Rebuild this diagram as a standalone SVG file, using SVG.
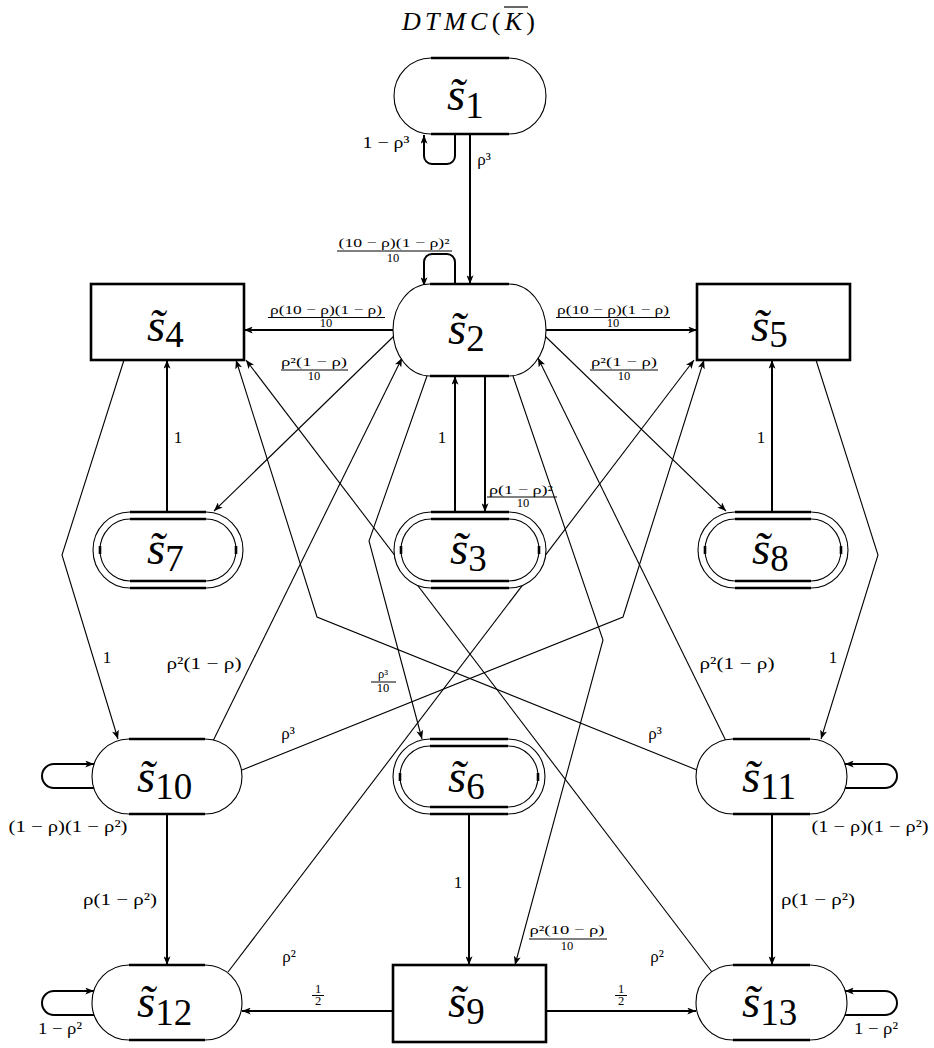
<svg xmlns="http://www.w3.org/2000/svg" width="934" height="1048" viewBox="0 0 934 1048" font-family="'Liberation Serif','Times New Roman','DejaVu Serif',serif">
<style>
.bg{fill:#fff;stroke:none}
.arc{fill:none;stroke:#000;stroke-width:1.1}
.flat{fill:none;stroke:#000;stroke-width:2.4}
.box{fill:#fff;stroke:#000;stroke-width:2.6}
.tick{fill:none;stroke:#000;stroke-width:2.6}
.e2{fill:none;stroke:#000;stroke-width:2;marker-end:url(#ah)}
.e1{fill:none;stroke:#000;stroke-width:1.1;marker-end:url(#ah)}
text{font-family:'Liberation Serif','Times New Roman','DejaVu Serif',serif;fill:#000}
.nl{font-style:italic;font-size:47px}
.sub{font-style:normal;font-size:37px}
.lb{font-size:17px;text-anchor:middle}
.fr{font-size:12.5px;text-anchor:middle}
.bar{stroke:#000;stroke-width:1}
</style>
<defs>
<marker id="ah" viewBox="0 0 10 8" refX="10" refY="4" markerWidth="9" markerHeight="7" orient="auto" markerUnits="userSpaceOnUse"><path d="M0,0 L10,4 L0,8 L2.5,4 Z" fill="#000"/></marker>
</defs>

<g id="title">
<text x="402" y="30" font-size="26" font-style="italic" textLength="133">DTMC<tspan font-style="normal">(</tspan>K<tspan font-style="normal">)</tspan></text>
<line x1="504" y1="7" x2="528" y2="7" stroke="#000" stroke-width="1.2"/>
</g>

<g id="connectors">
<path class="e2" d="M470,134 V284"/>
<path class="e2" d="M455,134 V156 A8,8 0 0 1 447,164 H432 A8,8 0 0 1 424,156 V135"/>
<path class="e2" d="M455,284 V262 A8,8 0 0 0 447,254 H432 A8,8 0 0 0 424,262 V286"/>
<path class="e2" d="M393,330 H244"/>
<path class="e2" d="M546,330 H697"/>
<path class="e1" d="M394,336 L214,511"/>
<path class="e1" d="M545,336 L726,511"/>
<path class="e2" d="M455,512 V376"/>
<path class="e2" d="M485,376 V512"/>
<path class="e2" d="M167,512 V360"/>
<path class="e2" d="M772,512 V360"/>
<path class="e1" d="M124,360 L62,555 L118,739"/>
<path class="e1" d="M816,360 L878,555 L821,739"/>
<path class="e1" d="M213,741 L402,358"/>
<path class="e1" d="M726,741 L538,358"/>
<path class="e1" d="M242,770 L623,617 L704,360"/>
<path class="e1" d="M697,770 L317,617 L236,360"/>
<path class="e1" d="M712,972 L246,360"/>
<path class="e1" d="M228,972 L694,360"/>
<path class="e1" d="M427,376 L369,541 L422,739"/>
<path class="e1" d="M513,376 L603,640 L515,965"/>
<path class="e2" d="M167,814 V965"/>
<path class="e2" d="M772,814 V965"/>
<path class="e2" d="M469,814 V965"/>
<path class="e2" d="M393,1011 H242"/>
<path class="e2" d="M546,1011 H696"/>
<path class="e2" d="M94,788 H54 A12,12 0 0 1 54,764 H94"/>
<path class="e2" d="M845,788 H885 A12,12 0 0 0 885,764 H845"/>
<path class="e2" d="M94,1015 H54 A12,12 0 0 1 54,991 H94"/>
<path class="e2" d="M845,1015 H885 A12,12 0 0 0 885,991 H845"/>
</g>

<g id="labels">
<text class="lb" x="386" y="148" font-size="15" textLength="47" lengthAdjust="spacingAndGlyphs">1 − ρ³</text>
<text class="lb" x="484" y="165">ρ³</text>
<text class="fr" x="394" y="247" textLength="111" lengthAdjust="spacingAndGlyphs">(10 − ρ)(1 − ρ)²</text>
<line class="bar" x1="337" y1="251" x2="452" y2="251"/>
<text class="fr" x="393" y="262">10</text>
<text class="fr" x="326" y="314" textLength="112" lengthAdjust="spacingAndGlyphs">ρ(10 − ρ)(1 − ρ)</text>
<line class="bar" x1="268" y1="317.5" x2="385" y2="317.5"/>
<text class="fr" x="326" y="327">10</text>
<text class="fr" x="613" y="314" textLength="112" lengthAdjust="spacingAndGlyphs">ρ(10 − ρ)(1 − ρ)</text>
<line class="bar" x1="556" y1="317.5" x2="670" y2="317.5"/>
<text class="fr" x="613" y="327">10</text>
<text class="fr" x="314" y="366" textLength="66" lengthAdjust="spacingAndGlyphs">ρ²(1 − ρ)</text>
<line class="bar" x1="281" y1="370" x2="348" y2="370"/>
<text class="fr" x="314" y="380">10</text>
<text class="fr" x="624" y="366" textLength="66" lengthAdjust="spacingAndGlyphs">ρ²(1 − ρ)</text>
<line class="bar" x1="590" y1="370" x2="658" y2="370"/>
<text class="fr" x="624" y="380">10</text>
<text class="lb" x="178" y="443">1</text>
<text class="lb" x="442" y="443">1</text>
<text class="lb" x="761" y="443">1</text>
<text class="fr" x="521" y="494" textLength="64" lengthAdjust="spacingAndGlyphs">ρ(1 − ρ)²</text>
<line class="bar" x1="487" y1="497" x2="557" y2="497"/>
<text class="fr" x="523" y="507">10</text>
<text class="lb" x="107" y="663">1</text>
<text class="lb" x="833" y="663">1</text>
<text class="lb" x="204" y="669" textLength="75" lengthAdjust="spacingAndGlyphs">ρ²(1 − ρ)</text>
<text class="lb" x="737" y="669" textLength="75" lengthAdjust="spacingAndGlyphs">ρ²(1 − ρ)</text>
<text class="fr" x="383" y="678">ρ³</text>
<line class="bar" x1="371" y1="682" x2="396" y2="682"/>
<text class="fr" x="383" y="692">10</text>
<text class="lb" x="288" y="739">ρ³</text>
<text class="lb" x="655" y="739">ρ³</text>
<text class="lb" x="68" y="832" textLength="119" lengthAdjust="spacingAndGlyphs">(1 − ρ)(1 − ρ²)</text>
<text class="lb" x="870" y="832" textLength="117" lengthAdjust="spacingAndGlyphs">(1 − ρ)(1 − ρ²)</text>
<text class="lb" x="120" y="905" textLength="74" lengthAdjust="spacingAndGlyphs">ρ(1 − ρ²)</text>
<text class="lb" x="818" y="905" textLength="74" lengthAdjust="spacingAndGlyphs">ρ(1 − ρ²)</text>
<text class="lb" x="458" y="888">1</text>
<text class="lb" x="289" y="962">ρ²</text>
<text class="lb" x="657" y="962">ρ²</text>
<text class="fr" x="567" y="934" textLength="75" lengthAdjust="spacingAndGlyphs">ρ²(10 − ρ)</text>
<line class="bar" x1="529" y1="939" x2="607" y2="939"/>
<text class="fr" x="567" y="950">10</text>
<text class="fr" x="318" y="993" font-size="11">1</text>
<line class="bar" x1="312" y1="995.5" x2="324" y2="995.5"/>
<text class="fr" x="318" y="1005" font-size="11">2</text>
<text class="fr" x="621" y="993" font-size="11">1</text>
<line class="bar" x1="615" y1="995.5" x2="627" y2="995.5"/>
<text class="fr" x="621" y="1005" font-size="11">2</text>
<text class="lb" x="60" y="1034" textLength="44" lengthAdjust="spacingAndGlyphs">1 − ρ²</text>
<text class="lb" x="876" y="1034" textLength="44" lengthAdjust="spacingAndGlyphs">1 − ρ²</text>
</g>

<g id="s1">
<path class="bg" d="M431,58 H509 A37,38 0 0 1 509,134 H431 A37,38 0 0 1 431,58 Z"/>
<path class="arc" d="M431,58 A37,38 0 0 0 431,134 M509,58 A37,38 0 0 1 509,134"/>
<path class="flat" d="M431,58 H509 M431,134 H509"/>
<text class="nl" x="447" y="110">s&#x303;<tspan class="sub" y="118">1</tspan></text>
</g>

<g id="s2">
<path class="bg" d="M430,284 H509 A37,46 0 0 1 509,376 H430 A37,46 0 0 1 430,284 Z"/>
<path class="arc" d="M430,284 A37,46 0 0 0 430,376 M509,284 A37,46 0 0 1 509,376"/>
<path class="flat" d="M430,284 H509 M430,376 H509"/>
<text class="nl" x="448" y="344">s&#x303;<tspan class="sub" y="351">2</tspan></text>
</g>

<g id="s4">
<rect class="box" x="91" y="284" width="153" height="76"/>
<text class="nl" x="147" y="341">s&#x303;<tspan class="sub" y="347">4</tspan></text>
</g>

<g id="s5">
<rect class="box" x="697" y="284" width="153" height="76"/>
<text class="nl" x="751" y="341">s&#x303;<tspan class="sub" y="347">5</tspan></text>
</g>

<g id="s7">
<path class="bg" d="M130,512 H206 A37,38 0 0 1 206,588 H130 A37,38 0 0 1 130,512 Z"/>
<path class="arc" d="M130,512 A37,38 0 0 0 130,588 M206,512 A37,38 0 0 1 206,588 M130,519 A30,31 0 0 0 130,581 M206,519 A30,31 0 0 1 206,581"/>
<path class="flat" d="M130,512 H206 M130,588 H206 M130,519 H206 M130,581 H206"/>
<path class="tick" d="M100,546 V554 M236,546 V554"/>
<text class="nl" x="147" y="564">s&#x303;<tspan class="sub" y="571">7</tspan></text>
</g>

<g id="s3">
<path class="bg" d="M431,512 H509 A37,38 0 0 1 509,588 H431 A37,38 0 0 1 431,512 Z"/>
<path class="arc" d="M431,512 A37,38 0 0 0 431,588 M509,512 A37,38 0 0 1 509,588 M431,519 A30,31 0 0 0 431,581 M509,519 A30,31 0 0 1 509,581"/>
<path class="flat" d="M431,512 H509 M431,588 H509 M431,519 H509 M431,581 H509"/>
<path class="tick" d="M401,546 V554 M539,546 V554"/>
<text class="nl" x="450" y="564">s&#x303;<tspan class="sub" y="571">3</tspan></text>
</g>

<g id="s8">
<path class="bg" d="M735,512 H811 A37,38 0 0 1 811,588 H735 A37,38 0 0 1 735,512 Z"/>
<path class="arc" d="M735,512 A37,38 0 0 0 735,588 M811,512 A37,38 0 0 1 811,588 M735,519 A30,31 0 0 0 735,581 M811,519 A30,31 0 0 1 811,581"/>
<path class="flat" d="M735,512 H811 M735,588 H811 M735,519 H811 M735,581 H811"/>
<path class="tick" d="M705,546 V554 M841,546 V554"/>
<text class="nl" x="752" y="564">s&#x303;<tspan class="sub" y="571">8</tspan></text>
</g>

<g id="s10">
<path class="bg" d="M129,739 H205 A37,37.5 0 0 1 205,814 H129 A37,37.5 0 0 1 129,739 Z"/>
<path class="arc" d="M129,739 A37,37.5 0 0 0 129,814 M205,739 A37,37.5 0 0 1 205,814"/>
<path class="flat" d="M129,739 H205 M129,814 H205"/>
<text class="nl" x="137" y="792">s&#x303;<tspan class="sub" y="799">10</tspan></text>
</g>

<g id="s6">
<path class="bg" d="M430,739 H508 A37,37.5 0 0 1 508,814 H430 A37,37.5 0 0 1 430,739 Z"/>
<path class="arc" d="M430,739 A37,37.5 0 0 0 430,814 M508,739 A37,37.5 0 0 1 508,814 M430,746 A30,30.5 0 0 0 430,807 M508,746 A30,30.5 0 0 1 508,807"/>
<path class="flat" d="M430,739 H508 M430,814 H508 M430,746 H508 M430,807 H508"/>
<path class="tick" d="M400,773 V781 M538,773 V781"/>
<text class="nl" x="448" y="792">s&#x303;<tspan class="sub" y="799">6</tspan></text>
</g>

<g id="s11">
<path class="bg" d="M733,739 H810 A37,37.5 0 0 1 810,814 H733 A37,37.5 0 0 1 733,739 Z"/>
<path class="arc" d="M733,739 A37,37.5 0 0 0 733,814 M810,739 A37,37.5 0 0 1 810,814"/>
<path class="flat" d="M733,739 H810 M733,814 H810"/>
<text class="nl" x="742" y="792">s&#x303;<tspan class="sub" y="799">11</tspan></text>
</g>

<g id="s12">
<path class="bg" d="M129,965 H205 A37,37.5 0 0 1 205,1040 H129 A37,37.5 0 0 1 129,965 Z"/>
<path class="arc" d="M129,965 A37,37.5 0 0 0 129,1040 M205,965 A37,37.5 0 0 1 205,1040"/>
<path class="flat" d="M129,965 H205 M129,1040 H205"/>
<text class="nl" x="137" y="1017">s&#x303;<tspan class="sub" y="1025">12</tspan></text>
</g>

<g id="s9">
<rect class="box" x="393" y="965" width="153" height="77"/>
<text class="nl" x="448" y="1017">s&#x303;<tspan class="sub" y="1024">9</tspan></text>
</g>

<g id="s13">
<path class="bg" d="M733,965 H810 A37,37.5 0 0 1 810,1040 H733 A37,37.5 0 0 1 733,965 Z"/>
<path class="arc" d="M733,965 A37,37.5 0 0 0 733,1040 M810,965 A37,37.5 0 0 1 810,1040"/>
<path class="flat" d="M733,965 H810 M733,1040 H810"/>
<text class="nl" x="742" y="1017">s&#x303;<tspan class="sub" y="1025">13</tspan></text>
</g>
</svg>
